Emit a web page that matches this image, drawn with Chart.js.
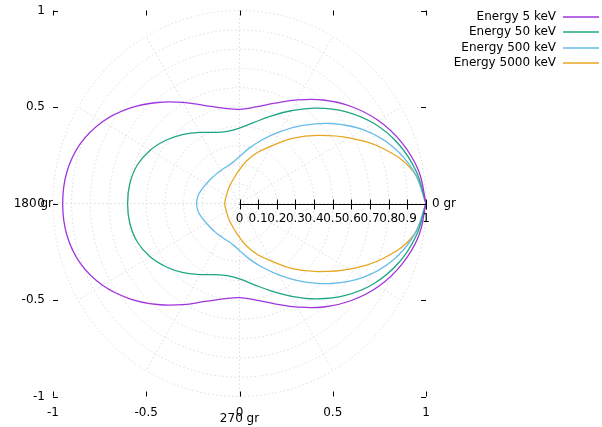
<!DOCTYPE html>
<html>
<head>
<meta charset="utf-8">
<script src="https://cdn.jsdelivr.net/npm/chart.js@4"></script>
<style>
  html, body { margin: 0; padding: 0; background: #fff; }
  canvas { display: block; }
</style>
</head>
<body>
<canvas id="chart" width="602" height="427"></canvas>
<script>
// polar angle in degrees (0..180, the lower half is the mirror image)
const angles = [0, 10, 20, 30, 40, 50, 60, 70, 80, 90, 100, 110, 120, 130, 140, 150, 160, 170, 180];

// radius of each curve at those angles
const r5 = [1.000, 0.975, 0.925, 0.860, 0.782, 0.700, 0.620, 0.553, 0.508, 0.488, 0.502, 0.540, 0.605, 0.683, 0.768, 0.848, 0.908, 0.940, 0.948];
const r50 = [1.000, 0.962, 0.906, 0.831, 0.741, 0.645, 0.555, 0.480, 0.425, 0.391, 0.380, 0.392, 0.425, 0.468, 0.512, 0.553, 0.583, 0.597, 0.600];
const r500 = [1.000, 0.950, 0.870, 0.765, 0.645, 0.528, 0.428, 0.350, 0.290, 0.243, 0.215, 0.203, 0.198, 0.197, 0.199, 0.205, 0.215, 0.226, 0.230];
const r5000 = [1.000, 0.948, 0.825, 0.680, 0.549, 0.441, 0.345, 0.281, 0.225, 0.176, 0.142, 0.120, 0.105, 0.094, 0.086, 0.081, 0.079, 0.079, 0.079];

const seriesNames = ['Energy 5 keV', 'Energy 50 keV', 'Energy 500 keV', 'Energy 5000 keV'];
const seriesColors = ['#a035dc', '#1ea683', '#66bce9', '#e8a620'];

const axisTicks = [-1, -0.5, 0, 0.5, 1];
const axisTickLabels = ['-1', '-0.5', '0', '0.5', '1'];
const radialTicks = [0, 0.1, 0.2, 0.3, 0.4, 0.5, 0.6, 0.7, 0.8, 0.9, 1];
const gridRadii = [0.1, 0.2, 0.3, 0.4, 0.5, 0.6, 0.7, 0.8, 0.9, 1];
const gridAngles = [0, 30, 60, 90, 120, 150, 180, 210, 240, 270, 300, 330];

const FONT = '12px "DejaVu Sans", sans-serif';

// polar -> cartesian, full turn 0..360 gr
function loop(rs) {
    const pts = [];
    const push = (deg, r) => {
        const t = deg * Math.PI / 180;
        pts.push({ x: r * Math.cos(t), y: r * Math.sin(t) });
    };
    angles.forEach((a, i) => push(a, rs[i]));
    for (let i = angles.length - 2; i >= 0; i--) push(360 - angles[i], rs[i]);
    return pts;
}

const curves = [r5, r50, r500, r5000];

const polarGrid = {
    id: 'polarGrid',
    beforeDatasetsDraw(chart) {
        const { ctx, scales: { x, y } } = chart;
        const cx = x.getPixelForValue(0), cy = y.getPixelForValue(0);
        const kx = x.getPixelForValue(1) - cx, ky = cy - y.getPixelForValue(1);
        ctx.save();
        ctx.strokeStyle = '#dcdcdc';
        ctx.lineWidth = 1;
        ctx.setLineDash([1.5, 2.5]);
        gridRadii.forEach(r => {
            ctx.beginPath();
            ctx.ellipse(cx, cy, r * kx, r * ky, 0, 0, Math.PI * 2);
            ctx.stroke();
        });
        gridAngles.forEach(a => {
            const t = a * Math.PI / 180;
            ctx.beginPath();
            ctx.moveTo(cx, cy);
            ctx.lineTo(cx + kx * Math.cos(t), cy - ky * Math.sin(t));
            ctx.stroke();
        });
        ctx.restore();
    }
};

const gnuAxes = {
    id: 'gnuAxes',
    afterDatasetsDraw(chart) {
        const { ctx, chartArea: a, scales: { x, y } } = chart;
        const cx = x.getPixelForValue(0), cy = y.getPixelForValue(0);
        ctx.save();
        ctx.strokeStyle = '#000';
        ctx.fillStyle = '#000';
        ctx.lineWidth = 1;
        ctx.font = FONT;
        ctx.textBaseline = 'middle';

        // border tics (no border line)
        axisTicks.forEach((v, i) => {
            const px = Math.round(x.getPixelForValue(v)) + 0.5;
            ctx.beginPath();
            ctx.moveTo(px, a.bottom); ctx.lineTo(px, a.bottom - 5);
            ctx.moveTo(px, a.top); ctx.lineTo(px, a.top + 5);
            ctx.stroke();
            ctx.textAlign = 'center';
            ctx.fillText(axisTickLabels[i], x.getPixelForValue(v), a.bottom + 16);

            const py = Math.round(y.getPixelForValue(v)) + 0.5;
            ctx.beginPath();
            ctx.moveTo(a.left, py); ctx.lineTo(a.left + 5, py);
            ctx.moveTo(a.right, py); ctx.lineTo(a.right - 5, py);
            ctx.stroke();
            ctx.textAlign = 'right';
            ctx.fillText(axisTickLabels[i], a.left - 8, y.getPixelForValue(v));
        });

        // radial axis along 0 gr
        const ry = Math.round(cy) + 0.5;
        ctx.beginPath();
        ctx.moveTo(cx, ry); ctx.lineTo(x.getPixelForValue(1), ry);
        radialTicks.forEach(v => {
            const px = Math.round(x.getPixelForValue(v)) + 0.5;
            ctx.moveTo(px, ry - 5); ctx.lineTo(px, ry + 5);
        });
        ctx.stroke();
        ctx.textAlign = 'center';
        radialTicks.forEach(v => {
            ctx.fillText(String(v), x.getPixelForValue(v), ry + 14);
        });

        // angle labels
        ctx.textAlign = 'left';
        ctx.fillText('0 gr', x.getPixelForValue(1) + 6, cy);
        ctx.textAlign = 'right';
        ctx.fillText('180 gr', a.left, cy);
        ctx.textAlign = 'center';
        ctx.fillText('270 gr', cx, a.bottom + 22);

        // key
        seriesNames.forEach((name, i) => {
            const ly = 17 + i * 15.3;
            ctx.textAlign = 'right';
            ctx.fillText(name, 556, ly);
            ctx.strokeStyle = seriesColors[i];
            ctx.lineWidth = 1.5;
            ctx.beginPath();
            ctx.moveTo(563, Math.round(ly)); ctx.lineTo(599, Math.round(ly));
            ctx.stroke();
        });
        ctx.restore();
    }
};

new Chart(document.getElementById('chart'), {
    type: 'scatter',
    data: {
        datasets: curves.map((rs, i) => ({
            label: seriesNames[i],
            data: loop(rs),
            showLine: true,
            borderColor: seriesColors[i],
            borderWidth: 1.3,
            pointRadius: 0,
            tension: 0.4,
            fill: false
        }))
    },
    options: {
        responsive: false,
        animation: false,
        devicePixelRatio: 1,
        layout: { padding: { left: 53, right: 176, top: 10.5, bottom: 30.5 } },
        plugins: {
            legend: { display: false },
            tooltip: { enabled: false }
        },
        scales: {
            x: { type: 'linear', min: -1, max: 1, display: false },
            y: { type: 'linear', min: -1, max: 1, display: false }
        }
    },
    plugins: [polarGrid, gnuAxes]
});
</script>
</body>
</html>
